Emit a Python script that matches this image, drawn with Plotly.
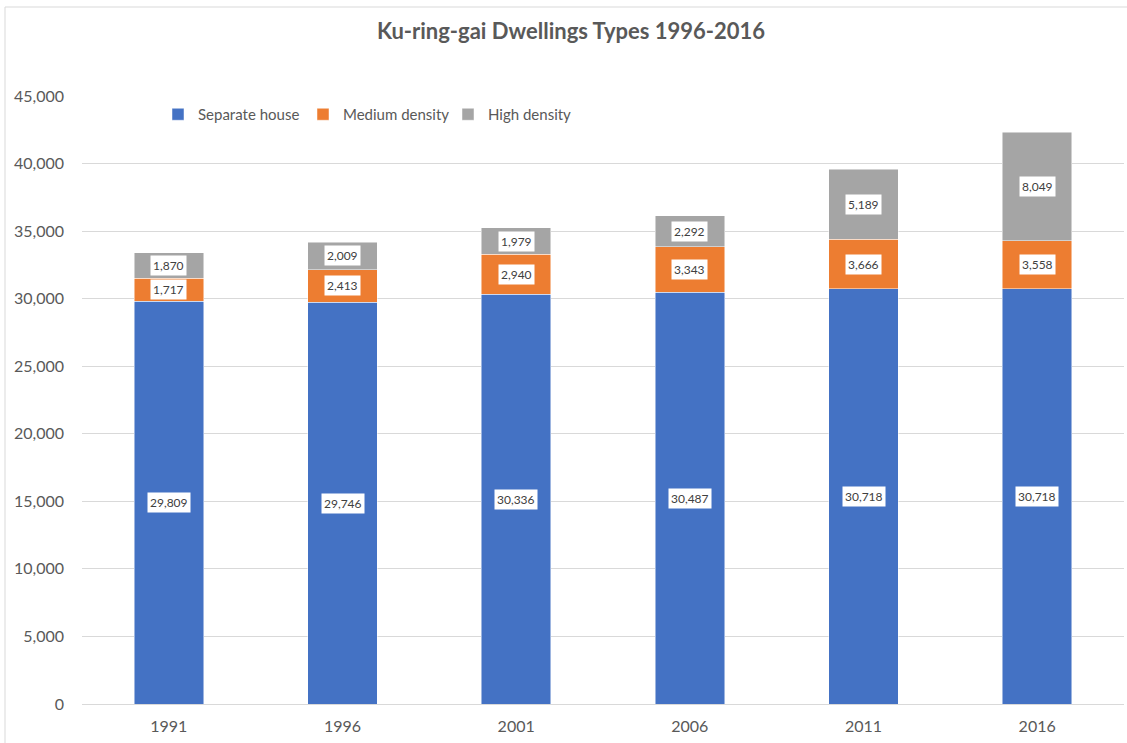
import plotly.graph_objects as go

years = ["1991", "1996", "2001", "2006", "2011", "2016"]
separate_house = [29809, 29746, 30336, 30487, 30718, 30718]
medium_density = [1717, 2413, 2940, 3343, 3666, 3558]
high_density = [1870, 2009, 1979, 2292, 5189, 8049]
series_names = ["Separate house", "Medium density", "High density"]
colors = ["#4472C4", "#ED7D31", "#A5A5A5"]
title_text = "Ku-ring-gai Dwellings Types 1996-2016"

FONT = "Lato"
series = [separate_house, medium_density, high_density]

fig = go.Figure()
for name, vals, col in zip(series_names, series, colors):
    fig.add_trace(go.Bar(
        x=years, y=vals, name=name, width=0.4,
        marker=dict(color=col, line=dict(color="rgba(255,255,255,0.6)", width=0.8)),
    ))

# data labels (white boxes) centred in each segment
for i, yr in enumerate(years):
    base = 0
    for vals in series:
        v = vals[i]
        fig.add_annotation(
            x=i, y=base + v / 2, text=f"{v:,}", showarrow=False,
            font=dict(family=FONT, size=12, color="#404040"),
            bgcolor="white", borderpad=2,
        )
        base += v

W, H = 1127, 743
L, R, T, B = 82, 3, 96, 39
pw, ph = W - L - R, H - T - B

def px_to_paper_x(p):
    return (p - L) / pw

def px_to_paper_y(q):
    return (H - B - q) / ph

# outer chart frame
fig.add_shape(type="rect", xref="paper", yref="paper",
              x0=px_to_paper_x(5), x1=px_to_paper_x(1135),
              y0=px_to_paper_y(750), y1=px_to_paper_y(7),
              line=dict(color="#D9D9D9", width=1), layer="below")
# legend background box hides the top gridline behind it
fig.add_shape(type="rect", xref="paper", yref="paper",
              x0=px_to_paper_x(159), x1=px_to_paper_x(592),
              y0=px_to_paper_y(128), y1=px_to_paper_y(92),
              line=dict(width=0), fillcolor="white", layer="between")

fig.update_layout(
    width=W, height=H,
    margin=dict(l=L, r=R, t=T, b=B),
    paper_bgcolor="white", plot_bgcolor="white",
    barmode="stack",
    title=dict(text=f"<b>{title_text}</b>", x=571 / W, xanchor="center",
               y=1 - 31 / H, yanchor="middle",
               font=dict(family=FONT, size=22, color="#595959")),
    legend=dict(orientation="h", x=px_to_paper_x(158), xanchor="left",
                y=px_to_paper_y(98), yanchor="top",
                bgcolor="rgba(0,0,0,0)", font=dict(family=FONT, size=15, color="#595959"),
                entrywidth=100, entrywidthmode="pixels", traceorder="normal",
                itemclick=False),
    font=dict(family=FONT, color="#595959"),
    showlegend=True,
)
fig.update_xaxes(type="category", range=[-0.5, len(years) - 0.5],
                 showgrid=False, showline=True, linecolor="#D9D9D9", linewidth=1,
                 tickfont=dict(family=FONT, size=16, color="#595959"),
                 ticks="", ticklabelstandoff=8)
fig.update_yaxes(range=[0, 45000], dtick=5000, tickformat=",d",
                 showgrid=True, gridcolor="#D9D9D9", gridwidth=1,
                 zeroline=False, showline=False,
                 tickfont=dict(family=FONT, size=16, color="#595959"),
                 ticks="", ticklabelstandoff=17)

fig.write_html("out.html", config={"displayModeBar": False},
               post_script="document.body.style.margin='0';")
